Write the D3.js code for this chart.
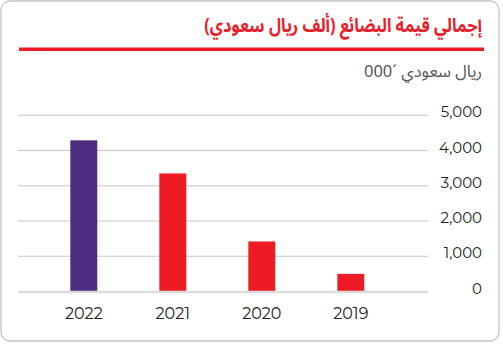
<!DOCTYPE html>
<html><head><meta charset="utf-8">
<script src="https://cdn.jsdelivr.net/npm/d3@7"></script>
<style>
html,body{margin:0;padding:0;background:#fff;}
svg{display:block;}
</style></head>
<body>
<svg id="chart" width="503" height="344"></svg>
<script>
const years = ["2022", "2021", "2020", "2019"];
const values = [4290, 3350, 1420, 500];
const barColors = ["#4c2c80", "#ed1c24", "#ed1c24", "#ed1c24"];
const yTicks = [0, 1000, 2000, 3000, 4000, 5000];
const title = "إجمالي قيمة البضائع (ألف ريال سعودي)";
const unitLabel = "000´ ريال سعودي";

const svg = d3.select("#chart");

svg.append("rect").attr("x",1).attr("y",1).attr("width",498).attr("height",340)
  .attr("rx",9).attr("fill","#fff").attr("stroke","#c4c4c4").attr("stroke-width",1.3);

svg.append("text").attr("transform","translate(482,32) scale(0.86,1)")
  .attr("direction","rtl").attr("text-anchor","start")
  .attr("font-family","'Noto Sans Arabic', 'Noto Sans', sans-serif").attr("font-weight","bold").attr("font-size",19)
  .attr("fill","#e8202a").text(title);

svg.append("rect").attr("x",19).attr("y",47.5).attr("width",465).attr("height",3.5).attr("fill","#ed1c24");

svg.append("text").attr("x",482).attr("y",76.5)
  .attr("text-anchor","end")
  .attr("font-family","'Noto Sans Arabic', 'Noto Sans', sans-serif").attr("font-size",16.5)
  .attr("fill","#555").text(unitLabel);

const y = d3.scaleLinear().domain([0,5000]).range([291.5,115.3]);
const x = d3.scaleBand().domain(years).range([39.3,395.3]).paddingInner(0.697).paddingOuter(0.3485);

const yAxis = d3.axisRight(y).tickValues(yTicks).tickSize(0).tickFormat(d3.format(","));
const ag = svg.append("g").attr("transform","translate(482,0)").call(yAxis);
ag.select(".domain").remove();
ag.selectAll("text").attr("x",0).attr("dy","0.1em").attr("text-anchor","end")
  .attr("font-family","Montserrat, 'DejaVu Sans', sans-serif").attr("font-size",15).attr("fill","#222");

svg.append("g").selectAll("line").data(yTicks.filter(d=>d>0)).join("line")
  .attr("x1",18).attr("x2",428).attr("y1",d=>y(d)).attr("y2",d=>y(d))
  .attr("stroke","#c6c6c6").attr("stroke-width",1);

svg.selectAll("rect.bar").data(years).join("rect").attr("class","bar")
  .attr("x",d=>x(d)).attr("width",x.bandwidth())
  .attr("y",(d,i)=>y(values[i])).attr("height",(d,i)=>y(0)-y(values[i]))
  .attr("fill",(d,i)=>barColors[i]);

svg.append("line").attr("x1",18).attr("x2",428).attr("y1",y(0)+0.5).attr("y2",y(0)+0.5)
  .attr("stroke","#dcdcdc").attr("stroke-width",2.5);

const xAxis = d3.axisBottom(x).tickSize(0);
const xg = svg.append("g").attr("transform","translate(0,"+(y(0))+")").call(xAxis);
xg.select(".domain").remove();
xg.selectAll("text").attr("y",27).attr("dy","0")
  .attr("font-family","Montserrat, 'DejaVu Sans', sans-serif").attr("font-size",16).attr("fill","#222");
</script>
</body></html>
